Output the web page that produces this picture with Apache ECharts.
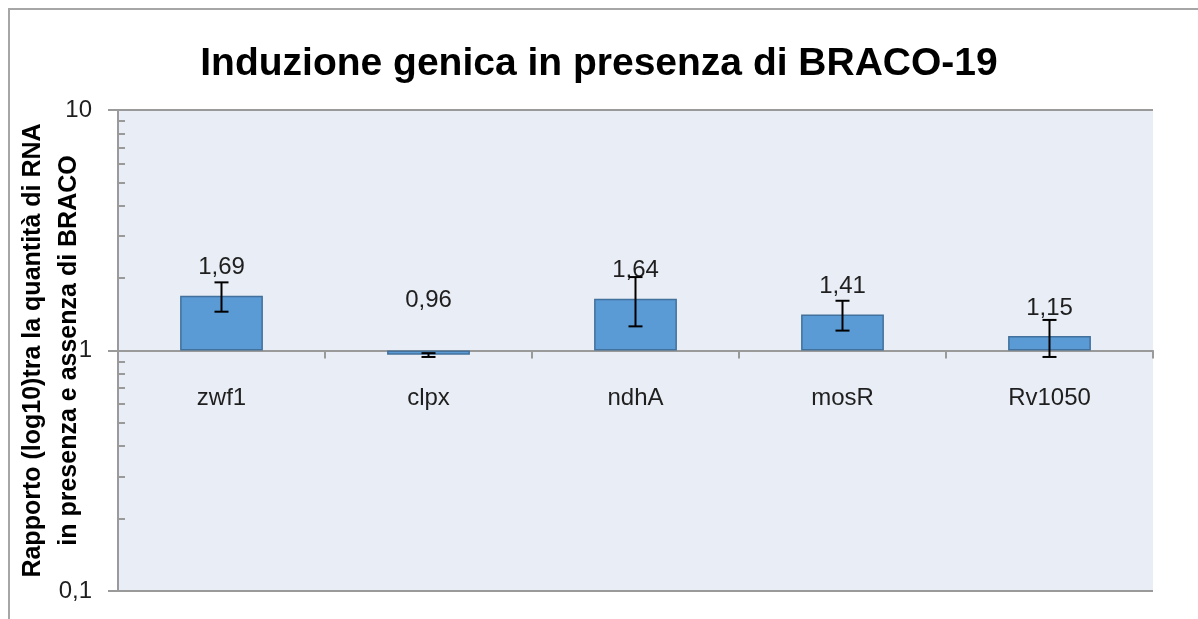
<!DOCTYPE html>
<html>
<head>
<meta charset="utf-8">
<script src="https://cdn.jsdelivr.net/npm/echarts@6.0.0/dist/echarts.min.js"></script>
<style>
  html, body { margin: 0; padding: 0; background: #fff; }
  #chart { width: 1198px; height: 619px; }
</style>
</head>
<body>
<div id="chart"></div>
<script>
var genes = ['zwf1', 'clpx', 'ndhA', 'mosR', 'Rv1050'];
var ratios = [1.69, 0.96, 1.64, 1.41, 1.15];
// estremi delle barre di errore
var errLow = [1.45, 0.94, 1.26, 1.21, 0.94];
var errHigh = [1.92, 0.975, 2.02, 1.61, 1.34];
var majorTicks = [0.1, 1, 10];
var minorTicks = [0.2, 0.3, 0.4, 0.5, 0.6, 0.7, 0.8, 0.9, 2, 3, 4, 5, 6, 7, 8, 9];

var chart = echarts.init(document.getElementById('chart'));

function comma(v) {
    return String(v).replace('.', ',');
}

var axisGray = '#9a9a9a';
var textColor = '#1f1f1f';
var font = 'Liberation Sans';

var option = {
    animation: false,
    graphic: [{
        type: 'rect',
        shape: { x: 9, y: 9, width: 1220, height: 640 },
        style: { fill: 'none', stroke: '#a6a6a6', lineWidth: 2 },
        silent: true
    }],
    title: {
        text: 'Induzione genica in presenza di BRACO-19',
        left: 'center',
        top: 40,
        textStyle: {
            fontFamily: font,
            fontSize: 39,
            fontWeight: 'bold',
            color: '#000'
        }
    },
    grid: {
        left: 118,
        right: 45,
        top: 110,
        bottom: 28,
        outerBoundsMode: 'none',
        containLabel: false,
        show: true,
        backgroundColor: '#e9edf5',
        borderWidth: 0
    },
    xAxis: {
        type: 'category',
        data: genes,
        position: 'bottom',
        offset: -240.5,
        axisLine: { onZero: false, lineStyle: { color: axisGray, width: 2 } },
        axisTick: { show: true, length: 8, lineStyle: { color: axisGray, width: 2 } },
        axisLabel: { margin: 36, fontFamily: font, fontSize: 24, color: textColor },
        splitLine: { show: false }
    },
    yAxis: [{
        type: 'log',
        logBase: 10,
        min: 0.1,
        max: 10,
        name: 'Rapporto (log10)tra la quantità di RNA\nin presenza e assenza di BRACO',
        nameLocation: 'middle',
        nameGap: 31,
        nameMoveOverlap: false,
        nameTextStyle: {
            fontFamily: font,
            fontSize: 25,
            fontWeight: 'bold',
            color: '#000',
            lineHeight: 36
        },
        axisLine: { show: true, lineStyle: { color: axisGray, width: 2 } },
        axisTick: { show: true, length: 10, customValues: majorTicks, lineStyle: { color: axisGray, width: 2 } },
        axisLabel: {
            margin: 26,
            fontFamily: font,
            fontSize: 24,
            color: textColor,
            customValues: majorTicks,
            formatter: function (v) { return comma(v); }
        },
        splitLine: { show: true, lineStyle: { color: axisGray, width: 2 } }
    }, {
        type: 'log',
        logBase: 10,
        min: 0.1,
        max: 10,
        position: 'left',
        axisLine: { show: false },
        axisLabel: { show: false },
        splitLine: { show: false },
        axisTick: { show: true, inside: true, length: 7, customValues: minorTicks, lineStyle: { color: axisGray, width: 2 } }
    }],
    series: [{
        name: 'Rapporto',
        type: 'bar',
        yAxisIndex: 0,
        barWidth: '40%',
        itemStyle: { color: '#5a9ad5', borderColor: '#41719c', borderWidth: 1.5 },
        label: {
            show: true,
            position: 'top',
            distance: 16,
            fontFamily: font,
            fontSize: 24,
            color: textColor,
            formatter: function (p) { return comma(p.value); }
        },
        data: ratios.map(function (v) {
            if (v < 1) {
                return { value: v, label: { distance: 38 } };
            }
            return v;
        })
    }, {
        name: 'Errore',
        type: 'custom',
        yAxisIndex: 0,
        z: 5,
        encode: { x: 0, y: [1, 2] },
        renderItem: function (params, api) {
            var lo = api.coord([api.value(0), api.value(1)]);
            var hi = api.coord([api.value(0), api.value(2)]);
            var cap = 7;
            var st = { stroke: '#000', lineWidth: 2 };
            return {
                type: 'group',
                children: [
                    { type: 'line', shape: { x1: lo[0], y1: lo[1], x2: hi[0], y2: hi[1] }, style: st },
                    { type: 'line', shape: { x1: lo[0] - cap, y1: lo[1], x2: lo[0] + cap, y2: lo[1] }, style: st },
                    { type: 'line', shape: { x1: hi[0] - cap, y1: hi[1], x2: hi[0] + cap, y2: hi[1] }, style: st }
                ]
            };
        },
        data: genes.map(function (g, i) { return [i, errLow[i], errHigh[i]]; })
    }]
};

chart.setOption(option);
</script>
</body>
</html>
